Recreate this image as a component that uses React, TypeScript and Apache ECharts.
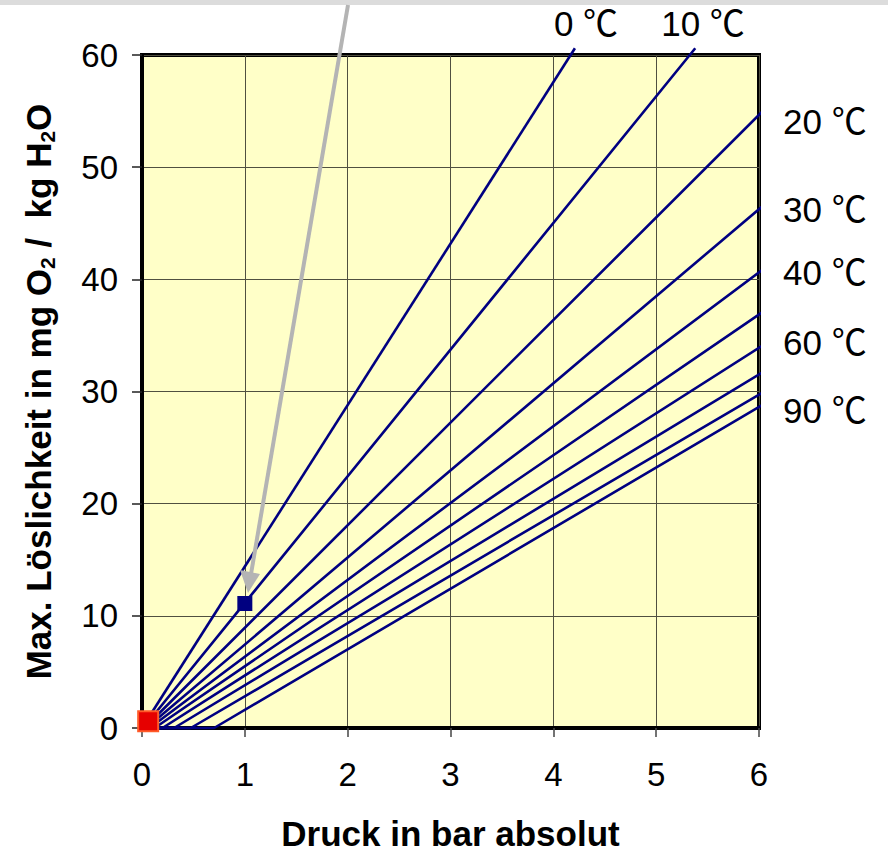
import React, { useEffect, useRef } from "react";
import * as echarts from "echarts";

// Temperatures of the isotherms (°C)
const temperatures = [0, 10, 20, 30, 40, 50, 60, 70, 80, 90];
// Pressure (bar) where each isotherm leaves the zero line (water vapour pressure)
const startPressure = [0.006, 0.012, 0.023, 0.042, 0.074, 0.123, 0.199, 0.312, 0.474, 0.701];
// End point of each isotherm (pressure in bar, solubility in mg O2 / kg H2O)
const endPressure = [4.21, 5.38, 6.07, 6.07, 6.07, 6.07, 6.07, 6.07, 6.07, 6.07];
const endSolubility = [60.6, 60.6, 55.3, 46.8, 41.1, 37.3, 34.3, 31.9, 30.1, 29.0];
// Highlighted points
const bluePoint = [1, 11.1];
const redPoint = [0.06, 0.6];
// Labelled isotherms
const labelTexts = ["0 ℃", "10 ℃", "20 ℃", "30 ℃", "40 ℃", "60 ℃", "90 ℃"];
const xTicks = [0, 1, 2, 3, 4, 5, 6];
const yTicks = [0, 10, 20, 30, 40, 50, 60];

const FONT = "'Liberation Sans', Arial, sans-serif";
const LABEL_FONT = "'Liberation Sans', 'Noto Sans CJK JP', Arial, sans-serif";

export default function App() {
  const ref = useRef<HTMLDivElement>(null);

  useEffect(() => {
    if (!ref.current) return;
    const chart = echarts.init(ref.current, null, { renderer: "svg" });

    const lineSeries = temperatures.map((t, i) => ({
      type: "line",
      name: t + " °C",
      data: [
        [0, 0],
        [startPressure[i], 0],
        [endPressure[i], endSolubility[i]],
      ],
      showSymbol: false,
      symbol: "none",
      clip: false,
      lineStyle: { color: "#000080", width: 2.6 },
      z: 3,
    }));

    const labelPos = [
      { x: 586, y: 23, align: "center" },
      { x: 703, y: 23, align: "center" },
      { x: 783, y: 121, align: "left" },
      { x: 783, y: 209, align: "left" },
      { x: 783, y: 272, align: "left" },
      { x: 783, y: 342, align: "left" },
      { x: 783, y: 410, align: "left" },
    ];

    chart.setOption({
      animation: false,
      backgroundColor: "#ffffff",
      grid: {
        left: 142,
        right: 129,
        top: 55,
        bottom: 128,
        show: true,
        backgroundColor: "#ffffc8",
        borderColor: "#000000",
        borderWidth: 4,
        z: 0,
      },
      xAxis: {
        type: "value",
        min: xTicks[0],
        max: xTicks[xTicks.length - 1],
        interval: 1,
        name: "Druck in bar absolut",
        nameLocation: "middle",
        nameGap: 88,
        nameTextStyle: { fontFamily: FONT, fontSize: 35, fontWeight: "bold", color: "#000" },
        axisLine: { show: true, lineStyle: { color: "#000", width: 4 } },
        axisTick: { show: true, inside: false, length: 9, lineStyle: { color: "#444", width: 1.5 } },
        axisLabel: { fontFamily: FONT, fontSize: 33, color: "#000", margin: 30 },
        splitLine: { show: true, lineStyle: { color: "#505040", width: 1 } },
      },
      yAxis: {
        type: "value",
        min: yTicks[0],
        max: yTicks[yTicks.length - 1],
        interval: 10,
        name: "{b|Max. Löslichkeit in mg O}{s|2}{b| /  kg H}{s|2}{b|O}",
        nameLocation: "middle",
        nameRotate: 90,
        nameGap: 84,
        nameTextStyle: {
          fontFamily: FONT,
          color: "#000",
          rich: {
            b: { fontFamily: FONT, fontSize: 35, fontWeight: "bold", color: "#000", lineHeight: 40 },
            s: {
              fontFamily: FONT,
              fontSize: 21,
              fontWeight: "bold",
              color: "#000",
              lineHeight: 40,
              verticalAlign: "bottom",
            },
          },
        },
        axisLine: { show: true, lineStyle: { color: "#000", width: 4 } },
        axisTick: { show: true, inside: false, length: 10, lineStyle: { color: "#222", width: 1.5 } },
        axisLabel: { fontFamily: FONT, fontSize: 33, color: "#000", margin: 24 },
        splitLine: { show: true, lineStyle: { color: "#505040", width: 1 } },
      },
      series: [
        ...lineSeries,
        {
          type: "scatter",
          data: [bluePoint],
          symbol: "rect",
          symbolSize: 15,
          itemStyle: { color: "#000080", opacity: 1 },
          z: 5,
        },
        {
          type: "scatter",
          data: [redPoint],
          symbol: "rect",
          symbolSize: 20,
          clip: false,
          itemStyle: { color: "#e60000", borderColor: "#ff5a28", borderWidth: 2, opacity: 1 },
          z: 6,
        },
      ],
      graphic: [
        {
          type: "rect",
          shape: { x: 0, y: 0, width: 888, height: 5 },
          style: { fill: "#dcdcdc" },
          z: 1,
        },
        {
          type: "line",
          shape: { x1: 348, y1: 5, x2: 251, y2: 574 },
          style: { stroke: "#b4b4b4", lineWidth: 4 },
          z: 8,
        },
        {
          type: "polygon",
          shape: { points: [[240, 570], [260, 574], [248, 593]] },
          style: { fill: "#b4b4b4" },
          z: 8,
        },
        ...labelTexts.map((txt, i) => ({
          type: "text",
          x: labelPos[i].x,
          y: labelPos[i].y,
          style: {
            text: txt,
            fontFamily: LABEL_FONT,
            fontSize: 35,
            fill: "#000",
            align: labelPos[i].align,
            verticalAlign: "middle",
          },
          z: 9,
        })),
      ],
    });

    return () => chart.dispose();
  }, []);

  return (
    <div
      ref={ref}
      style={{ position: "fixed", left: 0, top: 0, width: 888, height: 856 }}
    />
  );
}
